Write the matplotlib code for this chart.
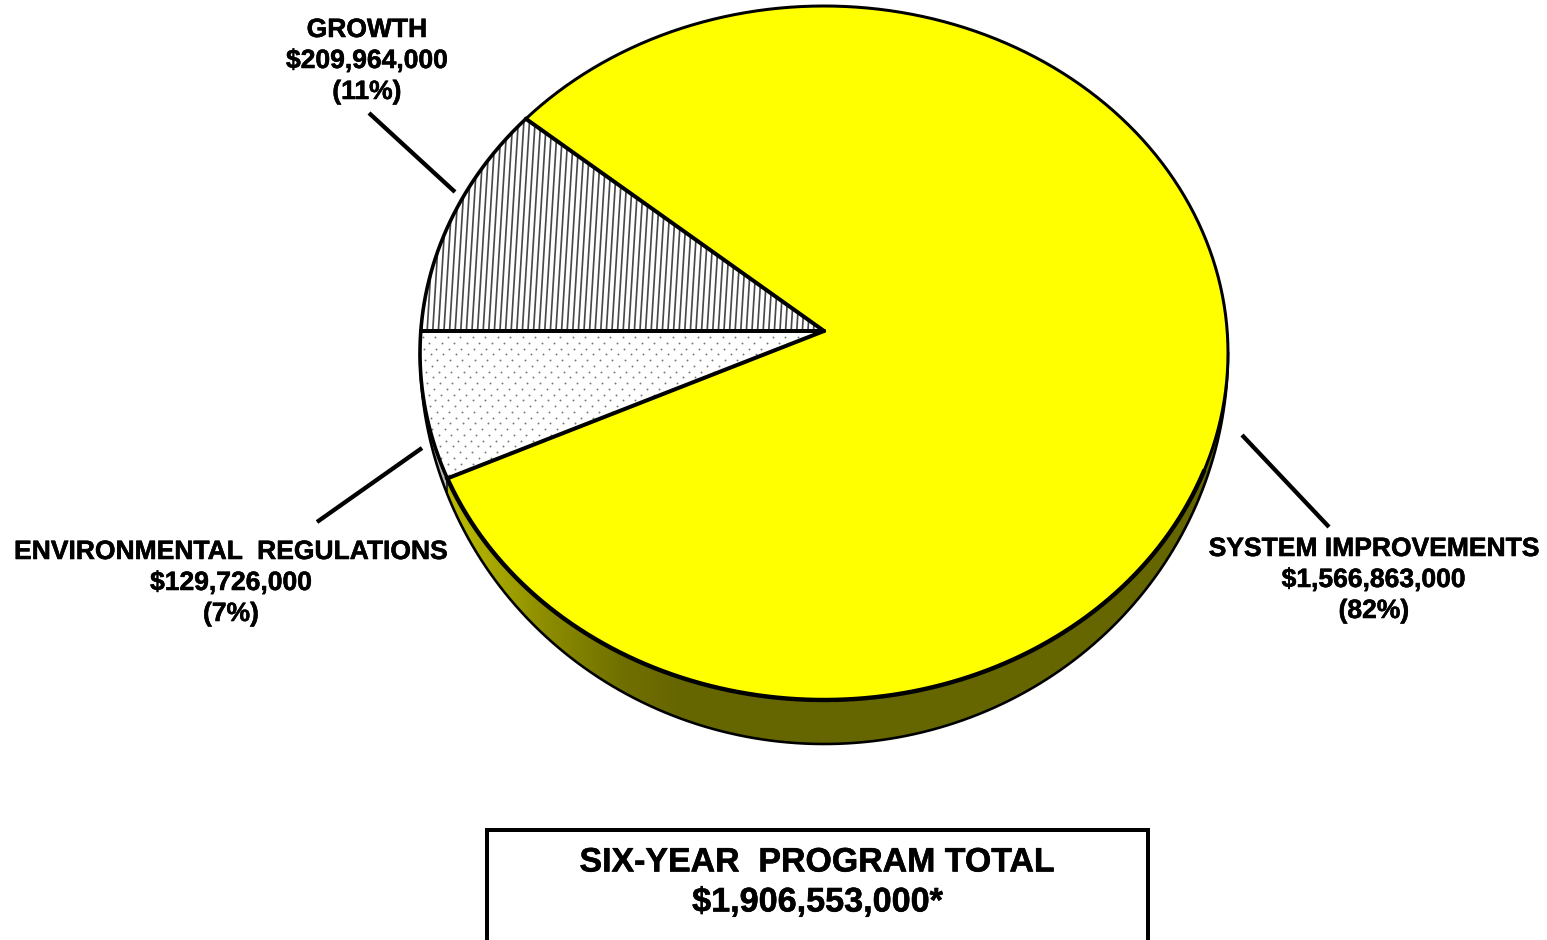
#!/usr/bin/env python3
import numpy as np
import matplotlib
matplotlib.use('Agg')
import matplotlib.pyplot as plt
import matplotlib.patheffects as pe
from matplotlib.patches import Polygon, Rectangle
from matplotlib.collections import LineCollection

plt.rcParams['font.family'] = ['Liberation Sans', 'DejaVu Sans']

categories = ['SYSTEM IMPROVEMENTS', 'GROWTH', 'ENVIRONMENTAL  REGULATIONS']
amounts = [1566863000, 209964000, 129726000]
percent_labels = ['(82%)', '(11%)', '(7%)']
total_title = 'SIX-YEAR  PROGRAM TOTAL'
total_label = '$1,906,553,000*'

# everything is laid out in image pixels, y going down
W, H = 1547, 940
CX, CY, RX, RY = 824, 353, 404, 347
APEX_Y = 331
RY_OUTER = 391
PX = 0.72  # one pixel in points at dpi 100
HEAVY = [pe.withStroke(linewidth=0.4, foreground='black')]


def rim_angle(frac_from_left, sign):
    # ray from the apex, squashed like the disc, to where it meets the rim
    a = 2 * np.pi * frac_from_left
    dx, dy = -np.cos(a), sign * np.sin(a)
    ox, oy = 0.0, (APEX_Y - CY) / RY
    qa = dx * dx + dy * dy
    qb = 2 * (ox * dx + oy * dy)
    qc = ox * ox + oy * oy - 1
    s = (-qb + np.sqrt(qb * qb - 4 * qa * qc)) / (2 * qa)
    return np.arctan2(oy + s * dy, ox + s * dx) % (2 * np.pi)


def rim(t0, t1, ry=RY, n=300):
    t = np.linspace(t0, t1, n)
    return np.column_stack([CX + RX * np.cos(t), CY + ry * np.sin(t)])


total = sum(amounts)
t_split = rim_angle(0.0, 1)  # growth starts at the horizontal
t_growth = rim_angle(amounts[1] / total, -1)
t_env = rim_angle(amounts[2] / total, 1)
apex = np.array([[CX, APEX_Y]])

fig = plt.figure(figsize=(W / 100, H / 100), dpi=100)
ax = fig.add_axes([0, 0, 1, 1])
ax.set_xlim(0, W)
ax.set_ylim(H, 0)
ax.axis('off')

# side of the disc
side_yellow = Polygon(np.vstack([rim(0, t_env), rim(t_env, 0, RY_OUTER)]),
                      closed=True, fc='none', ec='none')
ax.add_patch(side_yellow)
stops_x = [430, 470, 540, 620, 680, 1230]
stops_v = [0.74, 0.70, 0.56, 0.44, 0.40, 0.40]
xs = np.linspace(420, 1230, 400)
shade = np.interp(xs, stops_x, stops_v)
grad = np.zeros((1, len(xs), 3))
grad[0, :, 0] = shade
grad[0, :, 1] = shade
im = ax.imshow(grad, extent=[420, 1230, 760, 340], aspect='auto', zorder=1)
im.set_clip_path(side_yellow)
ax.set_xlim(0, W)
ax.set_ylim(H, 0)

side_gray = Polygon(np.vstack([rim(t_env, np.pi), rim(np.pi, t_env, RY_OUTER)]),
                    closed=True, fc='#b8b8b8', ec='none', zorder=1)
ax.add_patch(side_gray)
ax.plot(*rim(0, np.pi, RY_OUTER).T, color='black', lw=2.6 * PX, zorder=2)
t_e2 = np.array([CX + RX * np.cos(t_env), CY + RY_OUTER * np.sin(t_env)])
e1 = rim(t_env, t_env, n=1)[0]
ax.plot([e1[0], t_e2[0]], [e1[1], t_e2[1]], color='black', lw=1.5 * PX, zorder=2)

# top of the disc
yellow = Polygon(np.vstack([apex, rim(t_growth - 2 * np.pi, t_env)]), closed=True,
                 fc='#ffff00', ec='none', zorder=3)
env = Polygon(np.vstack([apex, rim(t_env, t_split)]), closed=True,
              fc='white', ec='none', zorder=3)
growth = Polygon(np.vstack([apex, rim(t_split, t_growth)]), closed=True,
                 fc='white', ec='none', zorder=3)
for p in (yellow, env, growth):
    ax.add_patch(p)

# vertical hatch on the growth slice
hatch_x = np.arange(400, 840, 5.6)
segs = [[(x - 7, 340), (x + 7, 110)] for x in hatch_x]
lc = LineCollection(segs, colors='#484848', linewidths=1.7 * PX, zorder=4)
ax.add_collection(lc)
lc.set_clip_path(growth)

# dot pattern on the environmental slice
dx_list, dy_list = [], []
for i, y in enumerate(np.arange(337, 490, 5.75)):
    for x in np.arange(410 + (i % 2) * 6.2 + i * 0.6, 800, 12.5):
        dx_list.append(x)
        dy_list.append(y)
dots = ax.scatter(dx_list, dy_list, s=1.9, c='#777777', linewidths=0, zorder=4)
dots.set_clip_path(env)

# outlines
for t0, t1, w in [(t_growth - 2 * np.pi, 0.35, 3.0), (0.35, t_env, 4.4), (t_env, t_growth, 3.6)]:
    ax.plot(*rim(t0, t1).T, color='black', lw=w * PX, zorder=5)
for t in (t_growth, t_split, t_env):
    pt = rim(t, t, n=1)[0]
    ax.plot([CX, pt[0]], [APEX_Y, pt[1]], color='black', lw=4.0 * PX,
            zorder=5, solid_capstyle='round')

# leader lines
leaders = [((1242, 435), (1329, 527)), ((369, 113), (455, 192)), ((422, 448), (317, 522))]
for a, b in leaders:
    ax.plot([a[0], b[0]], [a[1], b[1]], color='black', lw=4.3 * PX, solid_capstyle='butt', zorder=6)

# labels
label_pos = [(1374, 549), (367, 30), (231, 552)]
for name, val, pct, (x, y) in zip(categories, amounts, percent_labels, label_pos):
    for i, s in enumerate([name, f'${val:,}', pct]):
        ax.text(x, y + i * 31, s, ha='center', va='center', fontsize=19.05,
                fontweight='bold', color='black', zorder=7, path_effects=HEAVY)

# total box runs off the bottom of the picture
ax.add_patch(Rectangle((487, 829.5), 661, 200, fc='white', ec='black', lw=4 * PX, zorder=6))
ax.text(817, 863, total_title, ha='center', va='center', fontsize=24.4,
        fontweight='bold', color='black', zorder=7, path_effects=HEAVY)
ax.text(817.5, 903, total_label, ha='center', va='center', fontsize=24.6,
        fontweight='bold', color='black', zorder=7, path_effects=HEAVY)

fig.savefig('out.png', dpi=100)
